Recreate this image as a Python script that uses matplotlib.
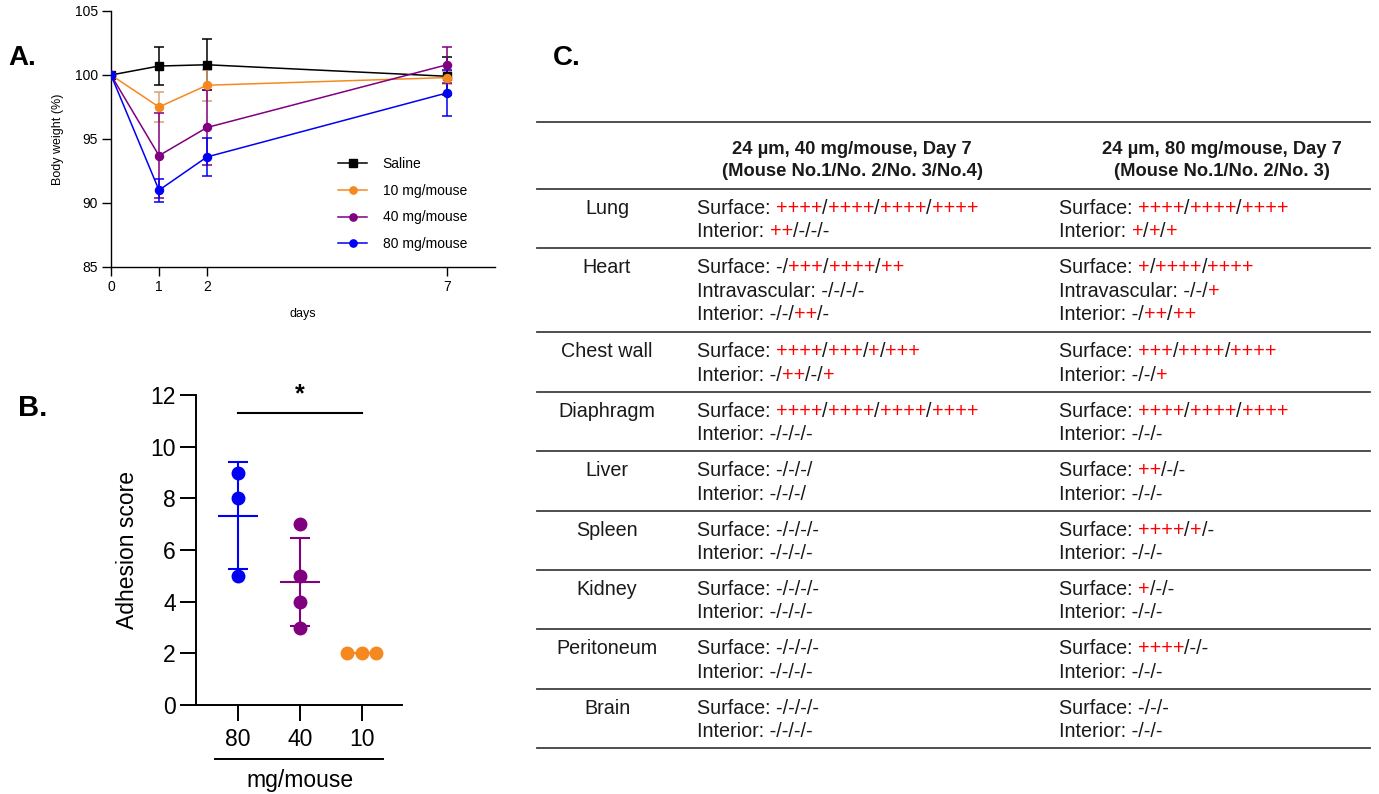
import matplotlib
matplotlib.use("Agg")
import matplotlib.pyplot as plt
import numpy as np
from matplotlib.font_manager import FontProperties

# ---------------- data ----------------
days = [0, 1, 2, 7]
groups_a = ["Saline", "10 mg/mouse", "40 mg/mouse", "80 mg/mouse"]
saline_mean = [100.0, 100.7, 100.8, 99.9]
saline_sd = [0.0, 1.5, 2.0, 1.5]
mg10_mean = [100.0, 97.5, 99.2, 99.8]
mg10_sd = [0.0, 1.2, 1.2, 0.5]
mg40_mean = [100.0, 93.7, 95.9, 100.8]
mg40_sd = [0.0, 3.3, 2.9, 1.4]
mg80_mean = [100.0, 91.0, 93.6, 98.6]
mg80_sd = [0.0, 0.9, 1.5, 1.8]

dose_labels = ["80", "40", "10"]
score_80 = [9, 8, 5]
score_40 = [7, 5, 4, 3]
score_10 = [2, 2, 2]

organs = ["Lung", "Heart", "Chest wall", "Diaphragm", "Liver", "Spleen",
          "Kidney", "Peritoneum", "Brain"]
header_40 = ["24 µm, 40 mg/mouse, Day 7", "(Mouse No.1/No. 2/No. 3/No.4)"]
header_80 = ["24 µm, 80 mg/mouse, Day 7", "(Mouse No.1/No. 2/No. 3)"]
col_40 = [
    ["Surface: ++++/++++/++++/++++", "Interior: ++/-/-/-"],
    ["Surface: -/+++/++++/++", "Intravascular: -/-/-/-", "Interior: -/-/++/-"],
    ["Surface: ++++/+++/+/+++", "Interior: -/++/-/+"],
    ["Surface: ++++/++++/++++/++++", "Interior: -/-/-/-"],
    ["Surface: -/-/-/", "Interior: -/-/-/"],
    ["Surface: -/-/-/-", "Interior: -/-/-/-"],
    ["Surface: -/-/-/-", "Interior: -/-/-/-"],
    ["Surface: -/-/-/-", "Interior: -/-/-/-"],
    ["Surface: -/-/-/-", "Interior: -/-/-/-"],
]
col_80 = [
    ["Surface: ++++/++++/++++", "Interior: +/+/+"],
    ["Surface: +/++++/++++", "Intravascular: -/-/+", "Interior: -/++/++"],
    ["Surface: +++/++++/++++", "Interior: -/-/+"],
    ["Surface: ++++/++++/++++", "Interior: -/-/-"],
    ["Surface: ++/-/-", "Interior: -/-/-"],
    ["Surface: ++++/+/-", "Interior: -/-/-"],
    ["Surface: +/-/-", "Interior: -/-/-"],
    ["Surface: ++++/-/-", "Interior: -/-/-"],
    ["Surface: -/-/-", "Interior: -/-/-"],
]

# ---------------- style ----------------
plt.rcParams['font.family'] = ['Liberation Sans', 'DejaVu Sans']

BLACK = "#000000"
ORANGE = "#F5891F"
PURPLE = "#800080"
BLUE = "#0000F5"

W, H = 1379, 794
fig = plt.figure(figsize=(W / 100, H / 100), dpi=100)

def fx(px):
    return px / W

def fy(py):
    return 1 - py / H

# ---------------- panel A ----------------
axA = fig.add_axes([fx(111), fy(267), fx(495 - 111), (267 - 11) / H])
series = [(saline_mean, saline_sd, BLACK, 's', 5.8),
          (mg10_mean, mg10_sd, ORANGE, 'o', 5.8),
          (mg40_mean, mg40_sd, PURPLE, 'o', 5.8),
          (mg80_mean, mg80_sd, BLUE, 'o', 5.8)]
handles = []
for (m, s, c, mk, ms), lab in zip(series, groups_a):
    ecol = c if c != ORANGE else "#D9A070"
    axA.errorbar(days, m, yerr=s, fmt='none', ecolor=ecol, elinewidth=1.1,
                 capsize=3.5, capthick=1.1, zorder=2)
    ln, = axA.plot(days, m, color=c, marker=mk, markersize=ms, lw=1.1,
                   label=lab, zorder=3)
    handles.append(ln)
axA.set_xlim(0, 8)
axA.set_ylim(85, 105)
axA.set_xticks(days)
axA.set_yticks([85, 90, 95, 100, 105])
for sp in ['top', 'right']:
    axA.spines[sp].set_visible(False)
for sp in ['left', 'bottom']:
    axA.spines[sp].set_linewidth(1.0)
axA.tick_params(direction='out', length=6.5, width=1.0, labelsize=10, pad=3)
axA.set_ylabel("Body weight (%)", fontsize=9, labelpad=8)
axA.set_xlabel("days", fontsize=9, labelpad=10)
axA.legend(handles=handles, loc='upper left', bbox_to_anchor=(0.559, 0.479),
           frameon=False, fontsize=10, labelspacing=0.92, handlelength=2.1,
           handletextpad=1.1, markerscale=0.9)
fig.text(fx(8), fy(58), "A.", fontsize=20, fontweight='bold', va='center', ha='left')

# ---------------- panel B ----------------
axB = fig.add_axes([fx(196), fy(705), fx(402 - 196), (705 - 395) / H])
scores = [score_80, score_40, score_10]
colors_b = [BLUE, PURPLE, ORANGE]
for i, (vals, c) in enumerate(zip(scores, colors_b)):
    vals = np.asarray(vals, dtype=float)
    mean = vals.mean()
    sd = vals.std(ddof=1)
    # spread identical values horizontally
    xs = np.full(len(vals), float(i))
    uniq, counts = np.unique(vals, return_counts=True)
    for u, n in zip(uniq, counts):
        if n > 1:
            idx = np.where(vals == u)[0]
            xs[idx] = i + (np.arange(n) - (n - 1) / 2) * 0.235
    axB.errorbar([i], [mean], yerr=[sd], fmt='none', ecolor=c, elinewidth=1.5,
                 capsize=7, capthick=1.5, zorder=2)
    axB.hlines(mean, i - 0.33, i + 0.33, colors=c, lw=1.5, zorder=2)
    axB.plot(xs, vals, 'o', color=c, markersize=9, zorder=3, clip_on=False)
axB.set_xlim(-0.68, 2.65)
axB.set_ylim(0, 12)
axB.set_yticks([0, 2, 4, 6, 8, 10, 12])
axB.set_xticks(range(len(dose_labels)))
axB.set_xticklabels(dose_labels)
for sp in ['top', 'right']:
    axB.spines[sp].set_visible(False)
for sp in ['left', 'bottom']:
    axB.spines[sp].set_linewidth(1.4)
axB.tick_params(direction='out', length=11.5, width=1.4, labelsize=16.5, pad=3)
axB.tick_params(axis='x', pad=5)
axB.set_ylabel("Adhesion score", fontsize=16.5, labelpad=8)
# significance bar
axB.plot([0, 2], [11.3, 11.3], color='black', lw=1.5, clip_on=False)
axB.text(1, 11.55, "*", ha='center', va='bottom', fontsize=18, fontweight='bold')
# group line under tick labels
xt = axB.get_xaxis_transform()
axB.plot([-0.37, 2.34], [-0.174, -0.174], color='black', lw=1.4,
         transform=xt, clip_on=False)
axB.text(1.0, -0.245, "mg/mouse", transform=xt, ha='center', va='center',
         fontsize=16.5)
fig.text(fx(18), fy(408), "B.", fontsize=21, fontweight='bold', va='center', ha='left')

# ---------------- panel C (table) ----------------
fig.text(fx(553), fy(58), "C.", fontsize=20, fontweight='bold', va='center', ha='left')
axT = fig.add_axes([0, 0, 1, 1])
axT.set_xlim(0, W)
axT.set_ylim(H, 0)
axT.axis('off')

renderer = fig.canvas.get_renderer()
fs_tab = 14.2
fp = FontProperties(family='Liberation Sans', size=fs_tab)

def text_w(s):
    w, _, _ = renderer.get_text_width_height_descent(s, fp, ismath=False)
    return w

bar_w = text_w("|")

def runs_of(s):
    out = []
    cur = ""
    cur_red = None
    for ch in s:
        red = ch == '+'
        if cur_red is None or red == cur_red:
            cur += ch
        else:
            out.append((cur, cur_red))
            cur = ch
        cur_red = red
    if cur:
        out.append((cur, cur_red))
    return out

def draw_line(x, y, s):
    prefix = ""
    for seg, red in runs_of(s):
        off = text_w(prefix + "|") - bar_w if prefix else 0.0
        axT.text(x + off, y, seg, color=('#FF0000' if red else '#1a1a1a'),
                 fontproperties=fp, ha='left', va='baseline')
        prefix += seg

X0, X1 = 537, 1370
ORG_X, C1_X, C2_X = 607, 697, 1059
LINE_C = '#404040'
top = 122
hdr_bottom = 189
axT.plot([X0, X1], [top, top], color=LINE_C, lw=1.3)
fp_h = FontProperties(family='Liberation Sans', size=13.2, weight='bold')
for k, (a, b) in enumerate(zip(header_40, header_80)):
    yb = 154 + 21.5 * k
    axT.text(852, yb, a, fontproperties=fp_h, ha='center', va='baseline', color='#1a1a1a')
    axT.text(1222, yb, b, fontproperties=fp_h, ha='center', va='baseline', color='#1a1a1a')
axT.plot([X0, X1], [hdr_bottom, hdr_bottom], color=LINE_C, lw=1.3)

LS = 23.3
y = hdr_bottom
for org, l40, l80 in zip(organs, col_40, col_80):
    n = max(len(l40), len(l80))
    row_h = 10.2 + 24.6 * n
    first = y + 25.0
    axT.text(ORG_X, first, org, fontproperties=fp, ha='center', va='baseline', color='#1a1a1a')
    for k, s in enumerate(l40):
        draw_line(C1_X, first + LS * k, s)
    for k, s in enumerate(l80):
        draw_line(C2_X, first + LS * k, s)
    y += row_h
    axT.plot([X0, X1], [y, y], color=LINE_C, lw=1.3)

fig.savefig("out.png", dpi=100)
